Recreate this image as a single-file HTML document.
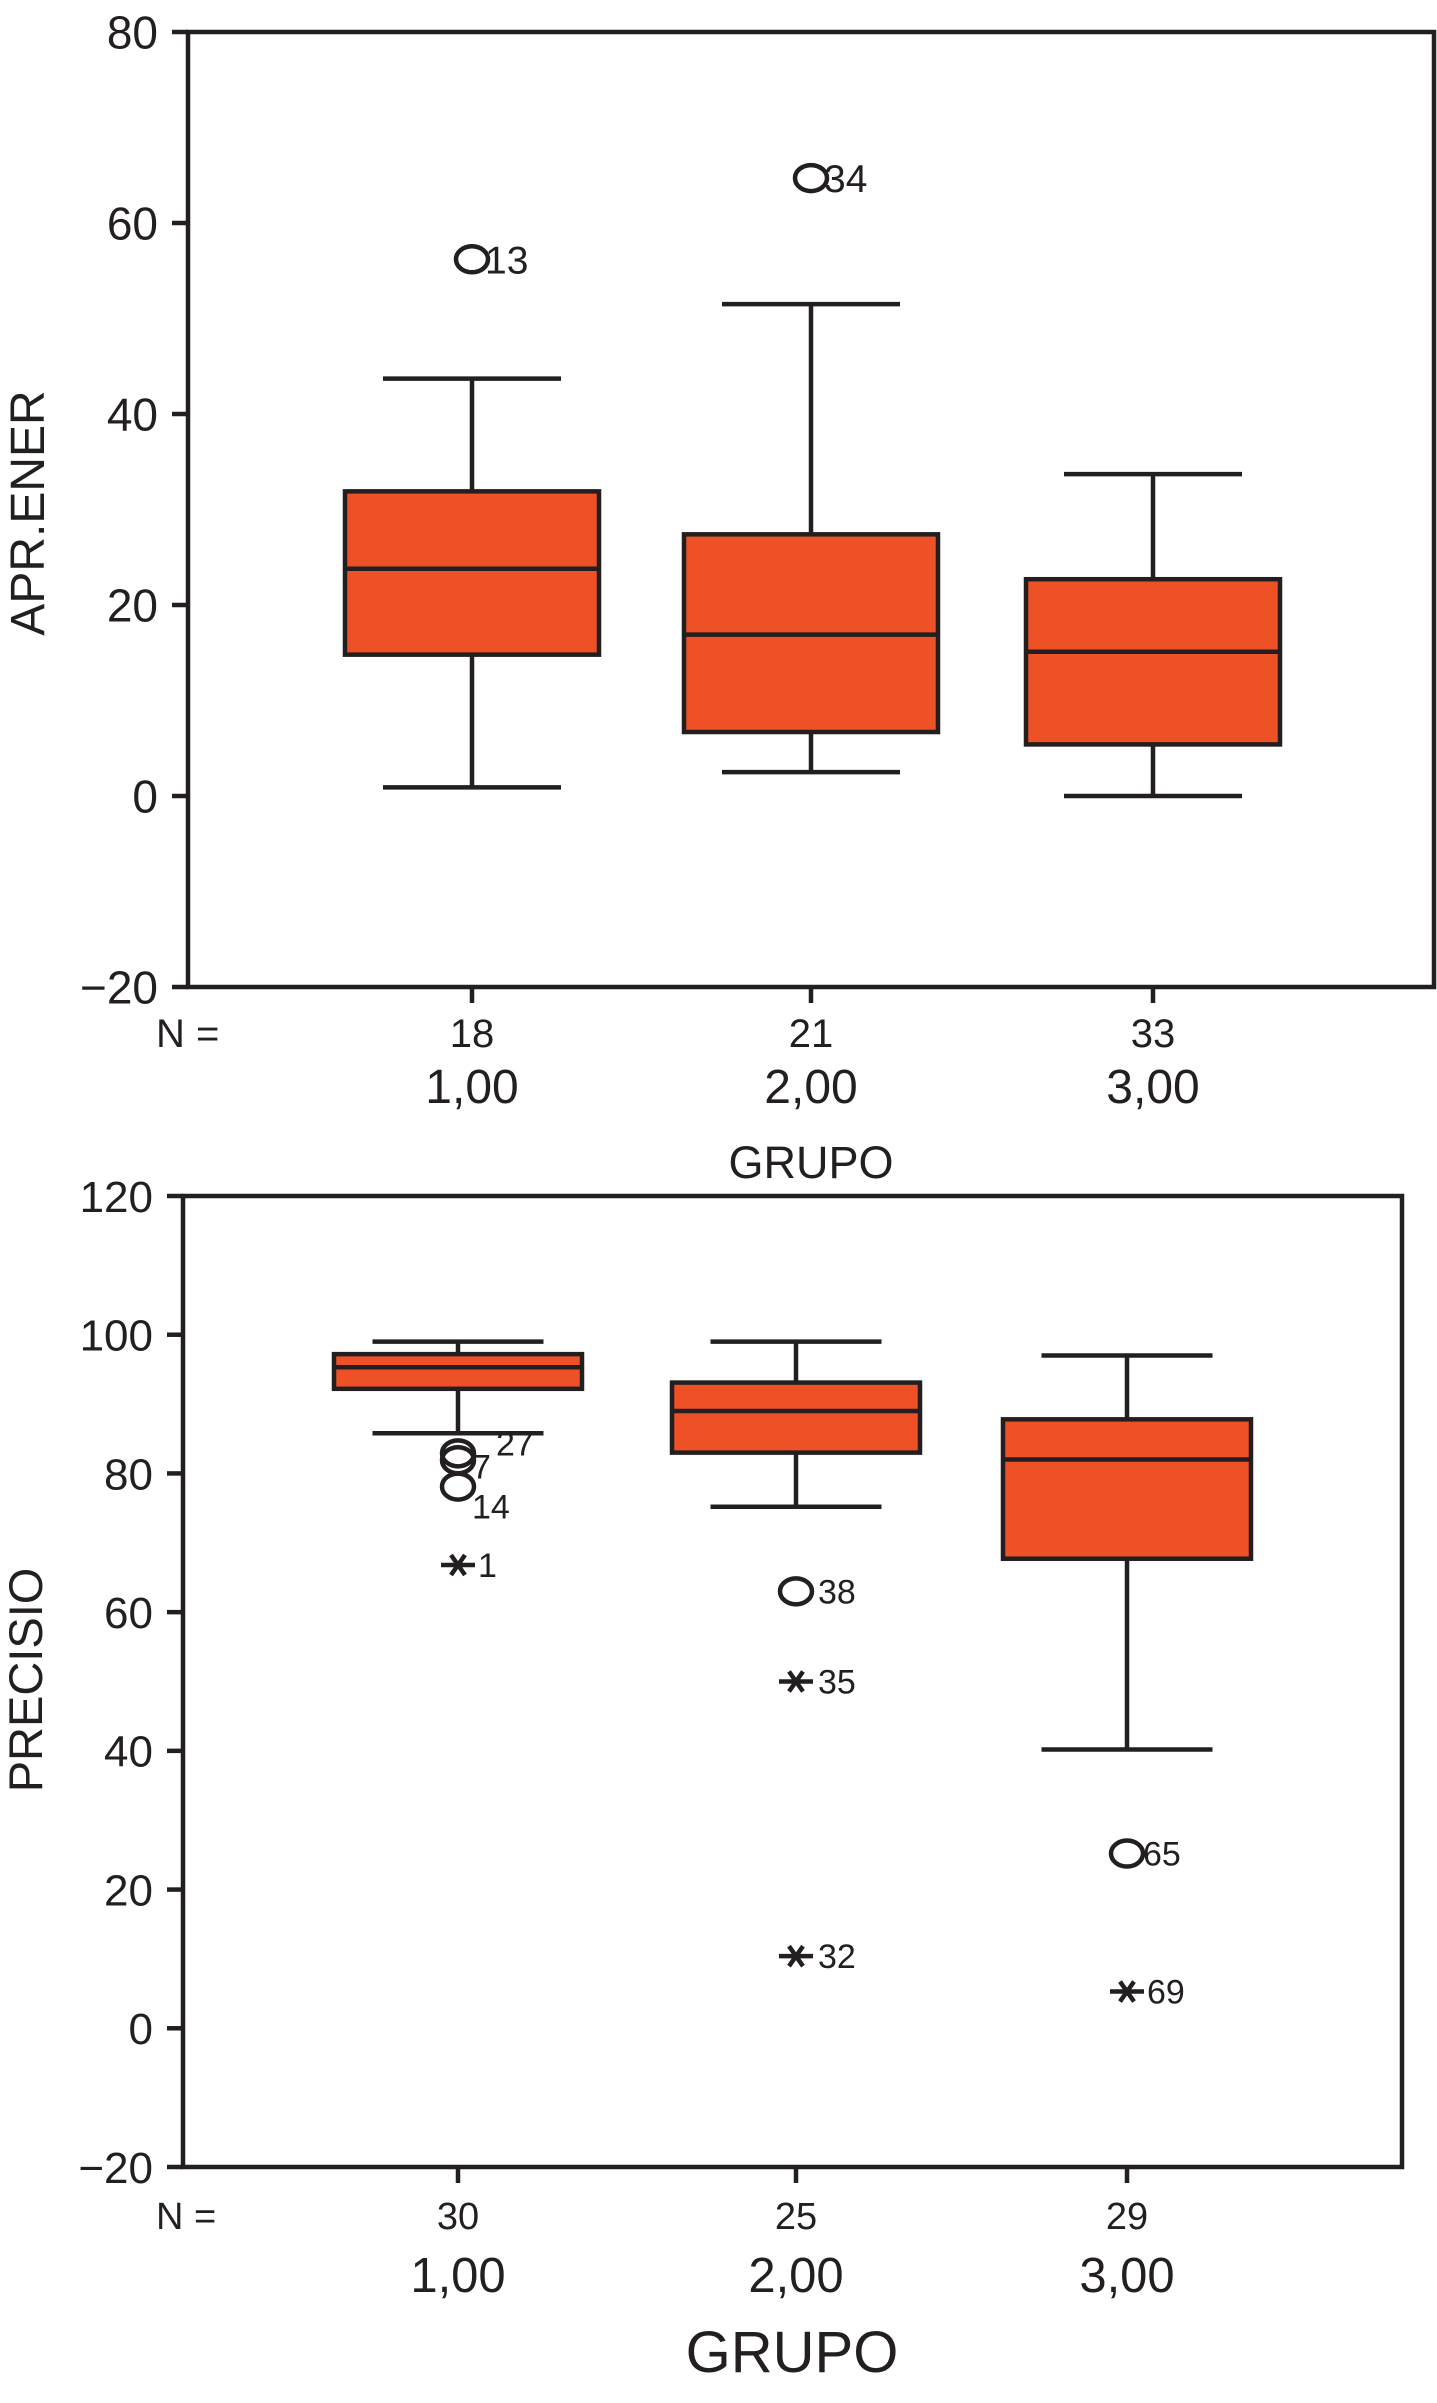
<!DOCTYPE html>
<html><head><meta charset="utf-8"><style>
html,body{margin:0;padding:0;background:#fff;}
svg{display:block;font-family:"Liberation Sans",sans-serif;fill:#231f20;}
</style></head><body>
<svg id="svg" width="1437" height="2403" viewBox="0 0 1437 2403"></svg>
<script>
// ---- Chart 1: APR.ENER ----
const c1Groups = ["1,00","2,00","3,00"];
const c1N = ["18","21","33"];
const c1Low = [0.9, 2.5, 0];
const c1Q1 = [14.8, 6.7, 5.4];
const c1Med = [23.8, 16.9, 15.1];
const c1Q3 = [31.9, 27.4, 22.7];
const c1High = [43.7, 51.5, 33.7];
const c1OutGroup = [0, 1];
const c1OutVal = [56.2, 64.7];
const c1OutLabel = ["13", "34"];
const c1OutType = ["o", "o"];
const c1Ticks = [80, 60, 40, 20, 0, -20];
const c1TickLabels = ["80","60","40","20","0","\u221220"];

// ---- Chart 2: PRECISIO ----
const c2Groups = ["1,00","2,00","3,00"];
const c2N = ["30","25","29"];
const c2Low = [85.8, 75.2, 40.2];
const c2Q1 = [92.2, 83, 67.7];
const c2Med = [95.3, 89, 82];
const c2Q3 = [97.2, 93.1, 87.8];
const c2High = [99, 99, 97];
const c2OutGroup = [0, 0, 0, 0, 1, 1, 1, 2, 2];
const c2OutVal = [82.9, 81.9, 78.1, 66.8, 63, 50, 10.4, 25.2, 5.3];
const c2OutLabel = ["27", "7", "14", "1", "38", "35", "32", "65", "69"];
const c2OutType = ["o", "o", "o", "*", "o", "*", "*", "o", "*"];
const c2Ticks = [120, 100, 80, 60, 40, 20, 0, -20];
const c2TickLabels = ["120","100","80","60","40","20","0","\u221220"];

const NS = "http://www.w3.org/2000/svg";
const svg = document.getElementById("svg");
function mk(tag, attrs, parent) {
  const e = document.createElementNS(NS, tag);
  for (const k in attrs) e.setAttribute(k, attrs[k]);
  (parent || svg).appendChild(e);
  return e;
}
function txt(s, x, y, size, anchor, parent) {
  const t = mk("text", {x: x, y: y, "font-size": size, "text-anchor": anchor || "middle"}, parent);
  t.textContent = s;
  return t;
}
const LW = 4.5;
const ORANGE = "#ee5125";

function drawChart(cfg) {
  const g = mk("g", {});
  
  
  const y = v => cfg.top + (cfg.yMax - v) / (cfg.yMax - cfg.yMin) * (cfg.bottom - cfg.top);
  const x = i => cfg.centers[i];
  const fr = mk("rect", {x: cfg.left, y: cfg.top, width: cfg.right - cfg.left, height: cfg.bottom - cfg.top, fill: "none", stroke: "#231f20", "stroke-width": LW}, g);
  
  
  cfg.ticks.forEach((v, i) => {
    const yy = y(v);
    const l = mk("line", {x1: cfg.left - 16, x2: cfg.left, y1: yy, y2: yy, stroke: "#231f20", "stroke-width": LW}, g);
    
    
    const t = txt(cfg.tickLabels[i], cfg.left - 30, yy + cfg.tickSize * 0.36, cfg.tickSize, "end", g);
    
    
  });
  const yt = txt(cfg.yTitle, 0, 0, cfg.yTitleSize, "middle", g);
  yt.setAttribute("transform", `translate(${cfg.yTitleX},${cfg.yTitleY}) rotate(-90)`);
  
  
  cfg.groups.forEach((gname, i) => {
    const bg = mk("g", {}, g);
    
    
    const cx = x(i);
    const hw = cfg.boxW / 2, cw = cfg.capW / 2;
    const s = {stroke: "#231f20", "stroke-width": LW};
    mk("line", Object.assign({x1: cx, x2: cx, y1: y(cfg.high[i]), y2: y(cfg.q3[i])}, s), bg);
    mk("line", Object.assign({x1: cx, x2: cx, y1: y(cfg.q1[i]), y2: y(cfg.low[i])}, s), bg);
    mk("line", Object.assign({x1: cx - cw, x2: cx + cw, y1: y(cfg.high[i]), y2: y(cfg.high[i])}, s), bg);
    mk("line", Object.assign({x1: cx - cw, x2: cx + cw, y1: y(cfg.low[i]), y2: y(cfg.low[i])}, s), bg);
    const r = mk("rect", Object.assign({x: cx - hw, y: y(cfg.q3[i]), width: cfg.boxW, height: y(cfg.q1[i]) - y(cfg.q3[i]), fill: ORANGE}, s), bg);
    
    
    const m = mk("line", Object.assign({x1: cx - hw, x2: cx + hw, y1: y(cfg.med[i]), y2: y(cfg.med[i])}, s), bg);
    
    
    mk("line", Object.assign({x1: cx, x2: cx, y1: cfg.bottom, y2: cfg.bottom + 16}, s), bg);
    const nt = txt(cfg.n[i], cx, cfg.nY, cfg.nSize, "middle", g);
    
    
    const ct = txt(gname, cx, cfg.catY, cfg.catSize, "middle", g);
    
    
  });
  const nl = txt("N =", cfg.nLabelX, cfg.nY, cfg.nSize, "start", g);
  
  
  const xt = txt("GRUPO", cfg.xTitleX, cfg.xTitleY, cfg.xTitleSize, "middle", g);
  
  
  cfg.outGroup.forEach((gi, k) => {
    const cx = x(gi), cy = y(cfg.outVal[k]);
    const og = mk("g", {}, g);
    
    
    if (cfg.outType[k] === "o") {
      mk("ellipse", {cx: cx, cy: cy, rx: 16, ry: 13, fill: "none", stroke: "#231f20", "stroke-width": 4.5}, og);
    } else {
      const s = {stroke: "#231f20", "stroke-width": 4.5};
      mk("line", Object.assign({x1: cx - 17, x2: cx + 17, y1: cy, y2: cy}, s), og);
      mk("line", Object.assign({x1: cx - 7, x2: cx + 7, y1: cy - 10, y2: cy + 10}, s), og);
      mk("line", Object.assign({x1: cx - 7, x2: cx + 7, y1: cy + 10, y2: cy - 10}, s), og);
    }
    const off = (cfg.labelOff && cfg.labelOff[k]) || [20, 11];
    txt(cfg.outLabel[k], cx + off[0], cy + off[1], cfg.outSize, "start", og);
  });
}

drawChart({
  name: "apr-ener-boxplot",
  left: 188, right: 1434, top: 32, bottom: 987, yMin: -20, yMax: 80,
  centers: [472, 811, 1153], boxW: 254, capW: 178,
  ticks: c1Ticks, tickLabels: c1TickLabels, tickSize: 46,
  yTitle: "APR.ENER", yTitleSize: 48, yTitleX: 44, yTitleY: 513,
  groups: c1Groups, n: c1N, low: c1Low, q1: c1Q1, med: c1Med, q3: c1Q3, high: c1High,
  nY: 1047, nSize: 40, catY: 1103, catSize: 48, nLabelX: 156,
  xTitleX: 811, xTitleY: 1178, xTitleSize: 45,
  outGroup: c1OutGroup, outVal: c1OutVal, outLabel: c1OutLabel, outType: c1OutType, outSize: 39,
  labelOff: [[13, 14], [13, 14]]
});

drawChart({
  name: "precisio-boxplot",
  left: 183, right: 1402, top: 1196, bottom: 2167, yMin: -20, yMax: 120,
  centers: [458, 796, 1127], boxW: 248, capW: 171,
  ticks: c2Ticks, tickLabels: c2TickLabels, tickSize: 44,
  yTitle: "PRECISIO", yTitleSize: 47, yTitleX: 42, yTitleY: 1680,
  groups: c2Groups, n: c2N, low: c2Low, q1: c2Q1, med: c2Med, q3: c2Q3, high: c2High,
  nY: 2229, nSize: 38, catY: 2292, catSize: 49, nLabelX: 156,
  xTitleX: 792, xTitleY: 2372, xTitleSize: 58,
  outGroup: c2OutGroup, outVal: c2OutVal, outLabel: c2OutLabel, outType: c2OutType, outSize: 34,
  labelOff: [[38, 2], [14, 18], [14, 32], [20, 12], [22, 12], [22, 12], [22, 12], [16, 12], [20, 12]]
});
</script>
</body></html>
